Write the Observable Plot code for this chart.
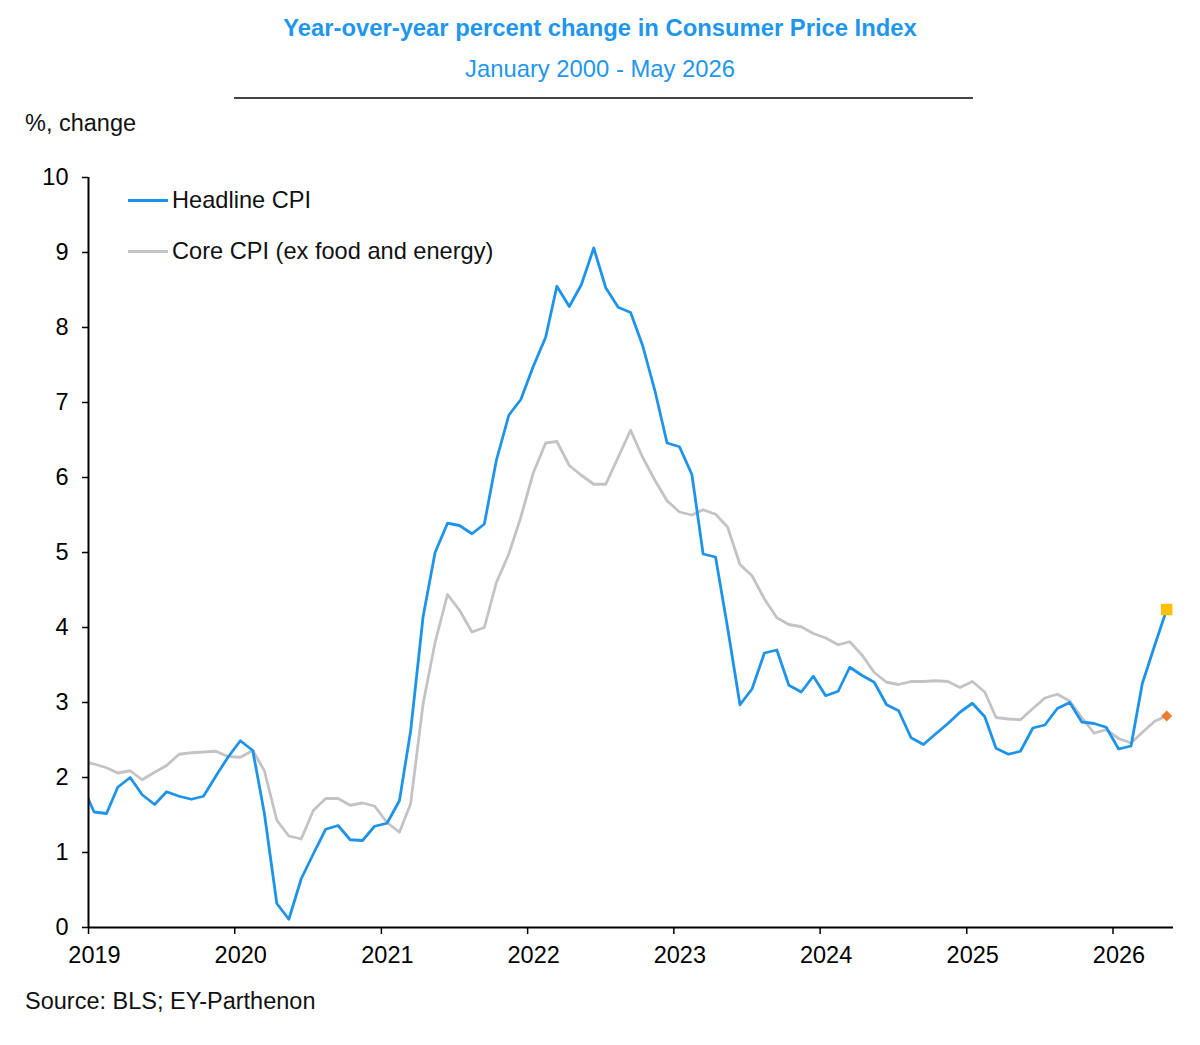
<!DOCTYPE html>
<html><head><meta charset="utf-8">
<script src="https://cdn.jsdelivr.net/npm/d3@7"></script>
<script src="https://cdn.jsdelivr.net/npm/@observablehq/plot@0.6"></script>
<style>
body{margin:0;background:#fff;font-family:"Liberation Sans",Arial,sans-serif;}
#wrap{position:relative;width:1200px;height:1045px;overflow:hidden;}
.t{position:absolute;white-space:nowrap;line-height:24px;color:#111;}
.sw{position:absolute;height:2.8px;width:40px;}
#chart{position:absolute;left:0;top:140px;}
</style></head><body><div id="wrap">
<div class="t" style="left:0;width:1200px;text-align:center;top:16px;font-size:23.8px;font-weight:bold;color:#1f96ee">Year-over-year percent change in Consumer Price Index</div>
<div class="t" style="left:0;width:1200px;text-align:center;top:57px;font-size:23.8px;color:#1f96ee">January 2000 - May 2026</div>
<div style="position:absolute;left:234px;top:97px;width:739px;height:1.5px;background:#444"></div>
<div class="t" style="left:25px;top:111px;font-size:23.5px">%, change</div>
<div class="sw" style="left:128px;top:199px;background:#1e93ea"></div>
<div class="t" style="left:172px;top:188px;font-size:23.6px">Headline CPI</div>
<div class="sw" style="left:128px;top:250px;background:#c3c3c7"></div>
<div class="t" style="left:172px;top:239px;font-size:23.6px">Core CPI (ex food and energy)</div>
<div class="t" style="left:25px;top:989px;font-size:23.5px">Source: BLS; EY-Parthenon</div>
<div id="chart"></div>
</div>
<script>
// Monthly data, Dec 2018 – May 2026 (first point lies just left of the axis and is clipped)
const startYear = 2018, startMonth = 11; // December 2018
const headline = [
  1.91,
  1.54, 1.52, 1.87, 2.00, 1.77, 1.64, 1.81, 1.75, 1.71, 1.75, 2.02, 2.27,
  2.49, 2.36, 1.52, 0.32, 0.11, 0.65, 0.98, 1.31, 1.36, 1.17, 1.16, 1.35,
  1.39, 1.69, 2.62, 4.14, 5.00, 5.39, 5.36, 5.25, 5.38, 6.23, 6.83, 7.04,
  7.48, 7.87, 8.55, 8.28, 8.57, 9.06, 8.53, 8.27, 8.20, 7.76, 7.15, 6.46,
  6.41, 6.04, 4.98, 4.94, 4.00, 2.97, 3.18, 3.66, 3.70, 3.23, 3.14, 3.35,
  3.09, 3.15, 3.47, 3.36, 3.27, 2.97, 2.89, 2.53, 2.44, 2.58, 2.72, 2.87,
  2.99, 2.81, 2.39, 2.31, 2.35, 2.66, 2.70, 2.92, 3.00, 2.74, 2.72, 2.67,
  2.38, 2.42, 3.25, 3.76, 4.24
];
const core = [
  2.21,
  2.18, 2.13, 2.06, 2.09, 1.97, 2.07, 2.16, 2.31, 2.33, 2.34, 2.35, 2.28,
  2.27, 2.36, 2.09, 1.43, 1.22, 1.18, 1.56, 1.72, 1.72, 1.63, 1.66, 1.62,
  1.40, 1.27, 1.65, 2.98, 3.80, 4.44, 4.23, 3.94, 4.00, 4.60, 4.98, 5.47,
  6.06, 6.46, 6.48, 6.16, 6.03, 5.91, 5.91, 6.27, 6.63, 6.27, 5.96, 5.69,
  5.54, 5.50, 5.57, 5.51, 5.34, 4.84, 4.69, 4.38, 4.13, 4.04, 4.01, 3.92,
  3.86, 3.77, 3.81, 3.63, 3.40, 3.27, 3.24, 3.28, 3.28, 3.29, 3.28, 3.20,
  3.28, 3.14, 2.80, 2.78, 2.77, 2.92, 3.06, 3.11, 3.02, 2.80, 2.59, 2.64,
  2.52, 2.46, 2.60, 2.75, 2.82
];
const xTickYears = [2019, 2020, 2021, 2022, 2023, 2024, 2025, 2026];
const yTicks = [0, 1, 2, 3, 4, 5, 6, 7, 8, 9, 10];

const rows = headline.map((h, i) => ({
  date: new Date(Date.UTC(startYear, startMonth + i, 15)),
  headline: h,
  core: core[i]
}));
const last = [rows[rows.length - 1]];
const xStart = new Date(Date.UTC(2019, 0, 1));
const xEnd = new Date(Date.UTC(2026, 5, 1));
const xTicks = xTickYears.map(y => new Date(Date.UTC(y, 0, 1)));

const chart = Plot.plot({
  width: 1200, height: 830,
  marginLeft: 88, marginRight: 27, marginTop: 37, marginBottom: 43,
  x: {type: "utc", domain: [xStart, xEnd]},
  y: {domain: [0, 10]},
  style: {fontFamily: '"Liberation Sans", Arial, sans-serif', fontSize: "23.5px", color: "#000", background: "transparent", overflow: "visible"},
  marks: [
    Plot.axisY({ticks: yTicks, tickSize: 6, tickPadding: 14, fontSize: 23.5, label: null, strokeWidth: 1.5}),
    Plot.axisX({ticks: xTicks, tickFormat: () => "", tickSize: 7, label: null, strokeWidth: 1.5}),
    Plot.axisX({ticks: xTicks, tickFormat: d3.utcFormat("%Y"), tickSize: 0, tickPadding: 19, fontSize: 23.5, label: null, dx: 6}),
    Plot.lineY(rows, {x: "date", y: "core", stroke: "#c3c3c7", strokeWidth: 2.8, clip: true}),
    Plot.lineY(rows, {x: "date", y: "headline", stroke: "#1e93ea", strokeWidth: 2.8, clip: true}),
    Plot.ruleX([xStart], {stroke: "#000", strokeWidth: 2}),
    Plot.ruleY([0], {stroke: "#000", strokeWidth: 2}),
    Plot.dot(last, {x: "date", y: "headline", symbol: "square", fill: "#ffc000", r: 6.5}),
    Plot.dot(last, {x: "date", y: "core", symbol: "diamond2", fill: "#ed7d31", r: 5})
  ]
});
document.getElementById("chart").appendChild(chart);
</script>
</body></html>
